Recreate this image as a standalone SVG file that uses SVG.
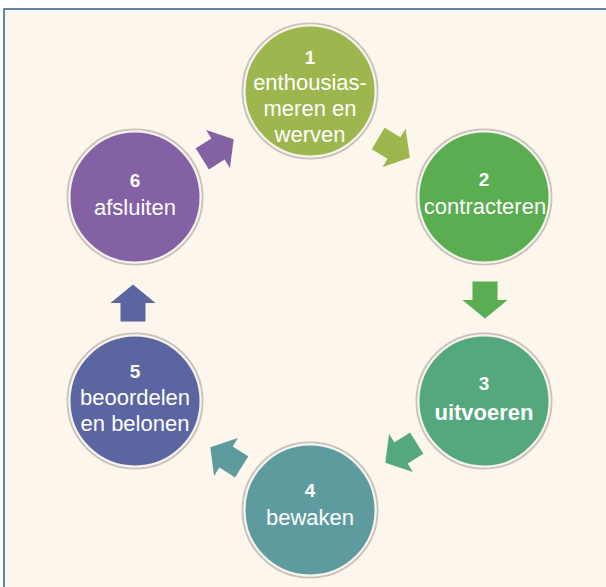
<svg xmlns="http://www.w3.org/2000/svg" width="606" height="587" viewBox="0 0 606 587">
<defs>
<style>
.ring{fill:none;stroke:#c9c3bc;stroke-width:2}
.disc{stroke:#f6f3ee;stroke-width:2}
.t{font-family:"Liberation Sans",Arial,sans-serif;font-size:22px;fill:#ffffff;text-anchor:middle}
.n{font-family:"Liberation Sans",Arial,sans-serif;font-size:19px;font-weight:bold;fill:#ffffff;text-anchor:middle}
.b{font-weight:bold}
</style>
<path id="arr" d="M0,-18.5 L22.5,0 L12.5,0 L12.5,18.5 L-12.5,18.5 L-12.5,0 L-22.5,0 Z"/>
</defs>
<rect x="0" y="0" width="606" height="587" fill="#ffffff"/>
<rect x="4" y="9" width="610" height="590" fill="#fcf6ec" stroke="#2d5f8b" stroke-width="1.5"/>

<g id="connectors">
<use href="#arr" fill="#9db64e" transform="translate(394,148) rotate(121)"/>
<use href="#arr" fill="#5aad50" transform="translate(485,300) rotate(180)"/>
<use href="#arr" fill="#55a87d" transform="translate(401,453) rotate(238)"/>
<use href="#arr" fill="#5e9b9f" transform="translate(226,457) rotate(-58)"/>
<use href="#arr" fill="#5b65a1" transform="translate(133,303)"/>
<use href="#arr" fill="#8461a5" transform="translate(218,149) rotate(58)"/>
</g>

<g id="node1">
<circle class="ring" cx="310" cy="91" r="67.5"/>
<circle class="disc" cx="310" cy="91" r="65.5" fill="#9db64e"/>
<text class="n" x="310" y="64">1</text>
<text class="t" x="310" y="90">enthousias-</text>
<text class="t" x="310" y="116">meren en</text>
<text class="t" x="310" y="142">werven</text>
</g>

<g id="node2">
<circle class="ring" cx="484" cy="197" r="67.5"/>
<circle class="disc" cx="484" cy="197" r="65.5" fill="#5aad50"/>
<text class="n" x="484" y="186">2</text>
<text class="t" x="485" y="214">contracteren</text>
</g>

<g id="node3">
<circle class="ring" cx="484" cy="401" r="67.5"/>
<circle class="disc" cx="484" cy="401" r="65.5" fill="#55a87d"/>
<text class="n" x="484" y="390">3</text>
<text class="t b" x="484" y="420">uitvoeren</text>
</g>

<g id="node4">
<circle class="ring" cx="310" cy="510" r="67.5"/>
<circle class="disc" cx="310" cy="510" r="65.5" fill="#5e9b9f"/>
<text class="n" x="310" y="497">4</text>
<text class="t" x="310" y="525">bewaken</text>
</g>

<g id="node5">
<circle class="ring" cx="135" cy="401" r="67.5"/>
<circle class="disc" cx="135" cy="401" r="65.5" fill="#5b65a1"/>
<text class="n" x="135" y="378">5</text>
<text class="t" x="135" y="405">beoordelen</text>
<text class="t" x="135" y="431">en belonen</text>
</g>

<g id="node6">
<circle class="ring" cx="135" cy="197" r="67.5"/>
<circle class="disc" cx="135" cy="197" r="65.5" fill="#8461a5"/>
<text class="n" x="135" y="187">6</text>
<text class="t" x="135" y="215">afsluiten</text>
</g>
</svg>
